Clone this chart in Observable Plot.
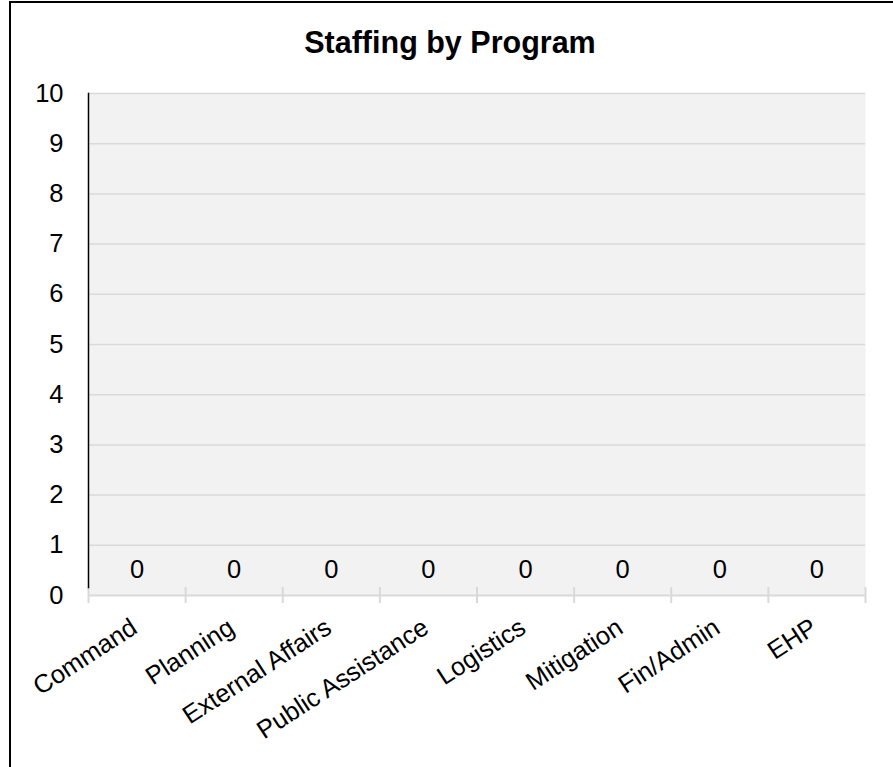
<!DOCTYPE html>
<html><head><meta charset="utf-8">
<script src="https://cdn.jsdelivr.net/npm/d3@7"></script>
<script src="https://cdn.jsdelivr.net/npm/@observablehq/plot@0.6"></script>
<style>
body{margin:0;background:#fff;}
#wrap{position:relative;width:893px;height:767px;overflow:hidden;font-family:"Liberation Sans",Arial,sans-serif;background:#fff;}
#border{position:absolute;left:9px;top:1px;width:884px;height:766px;border-top:2px solid #000;border-left:2px solid #000;box-sizing:border-box;pointer-events:none;}
#title{height:60px;box-sizing:border-box;padding-top:27px;padding-left:7px;line-height:30px;font-size:30.5px;font-weight:bold;text-align:center;color:#000;}
#chart svg{display:block;}
</style></head><body>
<div id="wrap"><div id="title">Staffing by Program</div><div id="chart"></div><div id="border"></div></div>
<script>
const programs = ["Command","Planning","External Affairs","Public Assistance","Logistics","Mitigation","Fin/Admin","EHP"];
const staff = [0,0,0,0,0,0,0,0];
const yTicks = [0,1,2,3,4,5,6,7,8,9,10];

const rows = programs.map((p,i)=>({program:p, index:i, value:staff[i]}));
const bounds = d3.range(programs.length + 1);
const font = "'Liberation Sans', Arial, sans-serif";

const plot = Plot.plot({
  width: 893, height: 707,
  marginTop: 33, marginBottom: 172, marginLeft: 88, marginRight: 28,
  style: {fontFamily: font, fontSize: "25.5px", color: "#000", background: "transparent", overflow: "visible"},
  x: {type: "linear", domain: [0, programs.length], axis: null, label: null},
  y: {domain: [0, 10], axis: null, label: null},
  marks: [
    Plot.frame({fill: "#f2f2f2", stroke: "none"}),
    Plot.ruleY(yTicks.filter(d => d > 0), {stroke: "#d9d9d9", strokeWidth: 1.5}),
    Plot.ruleY([0], {stroke: "#d9d9d9", strokeWidth: 2}),
    Plot.ruleX(bounds, {x: d => d, y1: 0, y2: 0, insetTop: -8, insetBottom: -8, stroke: "#d9d9d9", strokeWidth: 2}),
    Plot.rectY(rows, {x1: "index", x2: d => d.index + 1, y: "value", fill: "#4472c4", insetLeft: 15, insetRight: 15}),
    Plot.frame({anchor: "left", stroke: "#000", strokeWidth: 1.5, insetBottom: 8}),
    Plot.axisY({ticks: yTicks, tickSize: 0, tickPadding: 25, tickFormat: d => String(d), fontSize: 25.5, fill: "#000", label: null}),
    Plot.text(rows, {x: d => d.index + 0.5, y: "value", text: d => String(d.value), dy: -25.5, fontSize: 25.5, fill: "#000"}),
    Plot.text(rows, {x: d => d.index + 0.5, y: 0, text: "program", rotate: -33, textAnchor: "end", lineAnchor: "top", dx: -8, dy: 21, fontSize: 25.5, fill: "#000"})
  ]
});
document.getElementById("chart").appendChild(plot);
</script>
</body></html>
